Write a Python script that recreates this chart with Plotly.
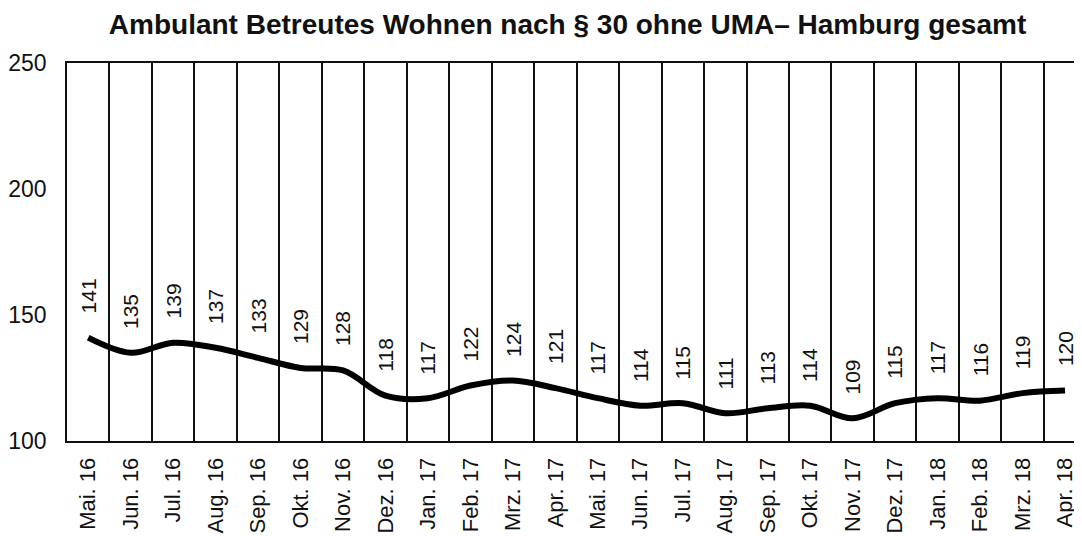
import plotly.graph_objects as go

categories = ["Mai. 16", "Jun. 16", "Jul. 16", "Aug. 16", "Sep. 16", "Okt. 16", "Nov. 16", "Dez. 16",
              "Jan. 17", "Feb. 17", "Mrz. 17", "Apr. 17", "Mai. 17", "Jun. 17", "Jul. 17", "Aug. 17",
              "Sep. 17", "Okt. 17", "Nov. 17", "Dez. 17", "Jan. 18", "Feb. 18", "Mrz. 18", "Apr. 18"]
values = [141, 135, 139, 137, 133, 129, 128, 118, 117, 122, 124, 121, 117, 114, 115, 111,
          113, 114, 109, 115, 117, 116, 119, 120]
y_ticks = [100, 150, 200, 250]
title_text = "Ambulant Betreutes Wohnen nach § 30 ohne UMA– Hamburg gesamt"

FONT = "Liberation Sans, Arial, sans-serif"

fig = go.Figure()
fig.add_trace(go.Scatter(
    x=categories, y=values, mode="lines",
    line=dict(color="black", width=6, shape="spline", smoothing=1.0),
    hoverinfo="skip", showlegend=False,
))

for c, v in zip(categories, values):
    fig.add_annotation(
        x=c, y=v, text=str(v), showarrow=False, textangle=-90,
        xanchor="center", yanchor="bottom", yshift=22,
        font=dict(family=FONT, size=21, color="#111"),
    )

fig.update_layout(
    width=1074, height=528,
    margin=dict(l=59, r=0, t=55, b=95, autoexpand=False),
    paper_bgcolor="white", plot_bgcolor="white",
    title=dict(text="<b>" + title_text + "</b>", x=0.521, xanchor="center",
               y=0.97, yanchor="middle", yref="container",
               font=dict(family=FONT, size=28, color="#111")),
    xaxis=dict(
        type="category", range=[-0.5, 23.4], tickson="boundaries",
        showgrid=True, gridcolor="#111", gridwidth=1.6,
        ticks="", tickangle=-90, automargin=False, ticklabelstandoff=6,
        tickfont=dict(family=FONT, size=22, color="#111"),
        showline=True, linecolor="#111", linewidth=1.8, mirror=True,
        zeroline=False, fixedrange=True,
    ),
    yaxis=dict(
        range=[100, 250], tickvals=y_ticks, showgrid=False, zeroline=False,
        ticks="", ticklabelstandoff=14, automargin=False,
        tickfont=dict(family=FONT, size=23, color="#111"),
        showline=True, linecolor="#111", linewidth=1.8, fixedrange=True,
    ),
)

fig.write_html("out.html")
